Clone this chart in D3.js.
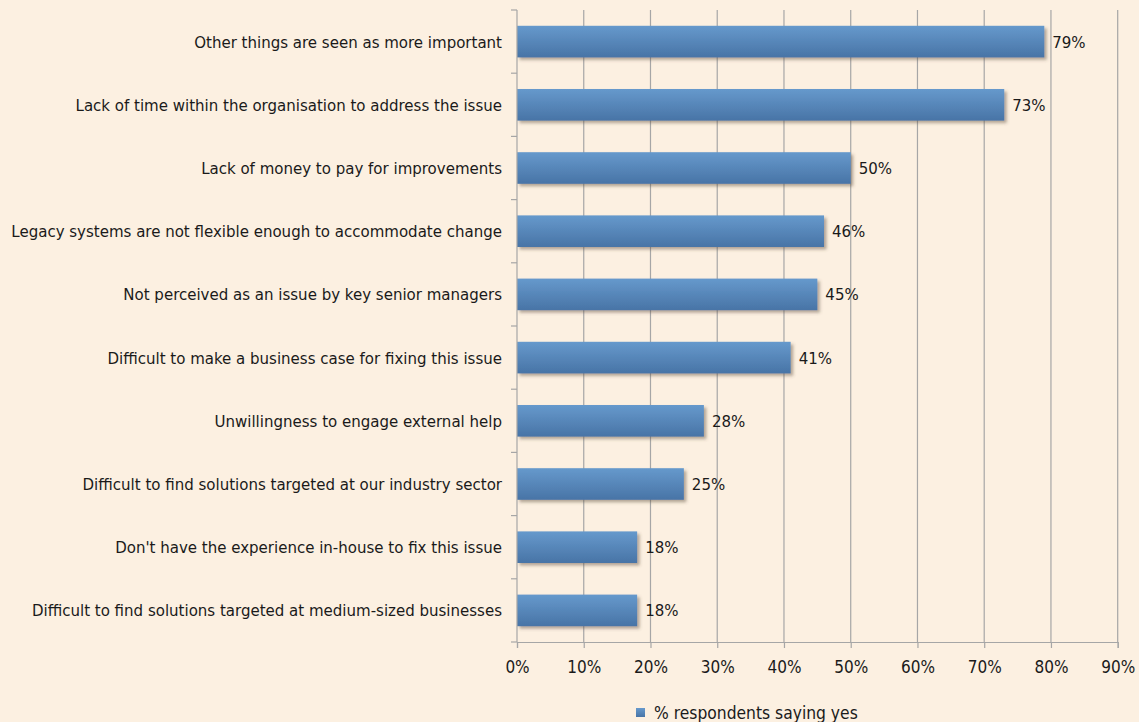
<!DOCTYPE html>
<html>
<head>
<meta charset="utf-8">
<script src="https://cdn.jsdelivr.net/npm/d3@7"></script>
<style>
  body { margin: 0; background: #FCF0E1; }
  svg text { font-family: "Liberation Sans Narrow", "DejaVu Sans Condensed", "Roboto Condensed", sans-serif; fill: #1a1a1a; }
</style>
</head>
<body>
<div id="chart"></div>
<script>
// Data
var categories = [
  "Other things are seen as more important",
  "Lack of time within the organisation to address the issue",
  "Lack of money to pay for improvements",
  "Legacy systems are not flexible enough to accommodate change",
  "Not perceived as an issue by key senior managers",
  "Difficult to make a business case for fixing this issue",
  "Unwillingness to engage external help",
  "Difficult to find solutions targeted at our industry sector",
  "Don't have the experience in-house to fix this issue",
  "Difficult to find solutions targeted at medium-sized businesses"
];
var values = [79, 73, 50, 46, 45, 41, 28, 25, 18, 18];
var ticks = [0, 10, 20, 30, 40, 50, 60, 70, 80, 90];
var seriesName = "% respondents saying yes";

var svg = d3.select("#chart")
  .append("svg")
  .attr("width", 1139)
  .attr("height", 722);

var defs = svg.append("defs");
var grad = defs.append("linearGradient")
  .attr("id", "barGrad")
  .attr("x1", "0").attr("y1", "0").attr("x2", "0").attr("y2", "1");
grad.append("stop").attr("offset", "0%").attr("stop-color", "#6699CC");
grad.append("stop").attr("offset", "100%").attr("stop-color", "#4874A6");

var shadow = defs.append("filter")
  .attr("id", "shadow")
  .attr("x", "-10%").attr("y", "-30%")
  .attr("width", "130%").attr("height", "180%");
shadow.append("feDropShadow")
  .attr("dx", 2.5).attr("dy", 2.5)
  .attr("stdDeviation", 1.5)
  .attr("flood-color", "#5a4a3a")
  .attr("flood-opacity", 0.45);

var x = d3.scaleLinear().domain([0, 90]).range([517, 1117.7]);
var y = d3.scaleBand().domain(categories).range([10, 642]).paddingInner(0.5).paddingOuter(0.25);

// gridlines
svg.append("g")
  .selectAll("line")
  .data(ticks.slice(1))
  .enter()
  .append("line")
  .attr("x1", d => x(d)).attr("x2", d => x(d))
  .attr("y1", 10).attr("y2", 642)
  .attr("stroke", "#A6A6A6")
  .attr("stroke-width", 1.2);

// bars
svg.append("g")
  .selectAll("rect")
  .data(values)
  .enter()
  .append("rect")
  .attr("x", x(0))
  .attr("y", (d, i) => y(categories[i]))
  .attr("width", d => x(d) - x(0))
  .attr("height", y.bandwidth())
  .attr("fill", "url(#barGrad)")
  .attr("filter", "url(#shadow)");

// value labels
svg.append("g")
  .selectAll("text")
  .data(values)
  .enter()
  .append("text")
  .attr("x", d => x(d) + 8)
  .attr("y", (d, i) => y(categories[i]) + y.bandwidth() / 2)
  .attr("dy", "0.36em")
  .attr("font-size", "16.7px")
  .text(d => d + "%");

// x axis
var xAxis = svg.append("g")
  .attr("transform", "translate(0,642)")
  .call(d3.axisBottom(x).tickValues(ticks).tickFormat(d => d + "%").tickSize(6).tickPadding(13));
xAxis.select(".domain").attr("stroke", "#A6A6A6").attr("stroke-width", 1.2);
xAxis.selectAll(".tick line").attr("stroke", "#A6A6A6").attr("stroke-width", 1.2);
xAxis.selectAll("text").attr("font-size", "17px").attr("fill", "#1a1a1a");

// y axis with ticks between categories
var bandStep = (642 - 10) / categories.length;
var yAxisG = svg.append("g");
yAxisG.append("line")
  .attr("x1", 517).attr("x2", 517)
  .attr("y1", 10).attr("y2", 642)
  .attr("stroke", "#A6A6A6").attr("stroke-width", 1.2);
yAxisG.selectAll("line.tk")
  .data(d3.range(categories.length + 1))
  .enter()
  .append("line")
  .attr("class", "tk")
  .attr("x1", 511).attr("x2", 517)
  .attr("y1", d => 10 + d * bandStep).attr("y2", d => 10 + d * bandStep)
  .attr("stroke", "#A6A6A6").attr("stroke-width", 1.2);

yAxisG.selectAll("text")
  .data(categories)
  .enter()
  .append("text")
  .attr("x", 502)
  .attr("y", d => y(d) + y.bandwidth() / 2)
  .attr("dy", "0.36em")
  .attr("text-anchor", "end")
  .attr("font-size", "16.7px")
  .text(d => d);

// legend
var legend = svg.append("g").attr("transform", "translate(636,708)");
legend.append("rect")
  .attr("width", 9).attr("height", 9)
  .attr("fill", "url(#barGrad)");
legend.append("text")
  .attr("x", 18).attr("y", 4.5)
  .attr("dy", "0.36em")
  .attr("font-size", "17.3px")
  .text(seriesName);
</script>
</body>
</html>
